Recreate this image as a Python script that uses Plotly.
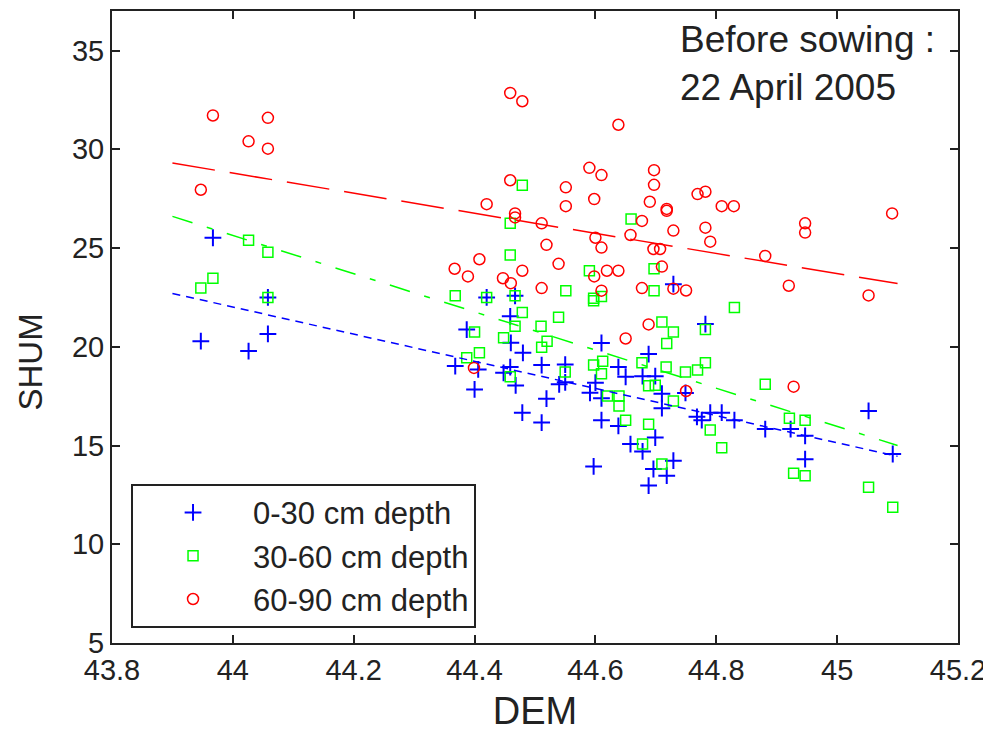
import plotly.graph_objects as go

# ---- data ----
dem_0_30 = [43.947, 43.967, 44.026, 44.058, 44.058, 44.42, 44.467, 44.459, 44.387, 44.46,
            44.61, 44.48, 44.368, 44.40, 44.406, 44.448, 44.459, 44.468, 44.511, 44.55,
            44.54, 44.55, 44.519, 44.479, 44.511, 44.597, 44.591, 44.60, 44.638, 44.65,
            44.61, 44.61, 44.638, 44.658, 44.678, 44.688, 44.688, 44.729, 44.782, 44.699,
            44.71, 44.749, 44.71, 44.768, 44.776, 44.79, 44.809, 44.83, 44.881, 44.923,
            44.947, 44.947, 45.052, 45.092, 44.699, 44.678, 44.729, 44.696, 44.718]
shum_0_30 = [20.28, 25.52, 19.78, 22.50, 20.65, 22.50, 22.58, 21.54, 20.87, 20.20,
             20.19, 19.69, 19.02, 17.84, 18.85, 18.68, 18.97, 18.04, 19.07, 19.10,
             18.10, 18.20, 17.37, 16.66, 16.16, 13.94, 17.67, 18.18, 18.97, 18.48,
             17.39, 16.28, 15.99, 15.07, 18.51, 19.63, 12.97, 23.17, 21.15, 18.51,
             17.62, 17.66, 16.89, 16.45, 16.28, 16.66, 16.66, 16.28, 15.83, 15.83,
             15.49, 14.31, 16.75, 14.57, 15.40, 14.70, 14.23, 13.81, 13.47]

dem_30_60 = [44.026, 44.058, 43.967, 43.947, 44.058, 44.479, 44.459, 44.659, 44.459, 44.59,
             44.551, 44.368, 44.42, 44.467, 44.597, 44.597, 44.61, 44.479, 44.539, 44.40,
             44.467, 44.51, 44.448, 44.52, 44.511, 44.408, 44.387, 44.697, 44.697, 44.83,
             44.71, 44.729, 44.782, 44.718, 44.782, 44.459, 44.55, 44.597, 44.612, 44.61,
             44.62, 44.639, 44.639, 44.65, 44.678, 44.677, 44.688, 44.688, 44.717, 44.749,
             44.769, 44.699, 44.729, 44.79, 44.809, 44.921, 44.947, 44.928, 44.947, 45.052,
             44.71, 44.881, 45.092]
shum_30_60 = [25.39, 24.78, 23.47, 22.97, 22.50, 28.18, 26.25, 26.47, 24.65, 23.85,
              22.84, 22.58, 22.50, 22.58, 22.46, 22.33, 22.55, 21.74, 21.50, 20.75,
              21.04, 21.04, 20.45, 20.28, 19.98, 19.69, 19.44, 23.95, 22.84, 21.99,
              21.25, 20.75, 20.87, 20.16, 19.19, 18.48, 18.72, 19.07, 19.27, 18.63,
              17.51, 17.51, 17.00, 16.28, 15.07, 19.19, 18.03, 16.08, 18.97, 18.72,
              18.82, 18.05, 17.25, 15.78, 14.88, 16.38, 16.28, 13.59, 13.47, 12.88,
              14.06, 18.10, 11.87]

dem_60_90 = [43.947, 43.967, 44.026, 44.058, 44.058, 44.367, 44.389, 44.399, 44.408, 44.42,
             44.447, 44.459, 44.459, 44.46, 44.467, 44.467, 44.479, 44.479, 44.511, 44.511,
             44.519, 44.539, 44.551, 44.551, 44.59, 44.598, 44.598, 44.60, 44.61, 44.61,
             44.61, 44.619, 44.638, 44.638, 44.65, 44.658, 44.677, 44.677, 44.688, 44.69,
             44.697, 44.697, 44.696, 44.707, 44.71, 44.718, 44.718, 44.729, 44.729, 44.75,
             44.75, 44.769, 44.782, 44.782, 44.79, 44.809, 44.829, 44.881, 44.92, 44.928,
             44.947, 44.947, 45.052, 45.091]
shum_60_90 = [27.95, 31.71, 30.40, 31.59, 30.03, 23.95, 23.56, 18.93, 24.43, 27.22,
              23.47, 32.85, 28.43, 23.22, 26.75, 26.55, 32.43, 23.85, 26.25, 22.97,
              25.16, 24.20, 28.07, 27.12, 29.06, 27.48, 23.56, 25.52, 28.69, 25.02,
              22.84, 23.85, 31.24, 23.85, 20.42, 25.66, 26.37, 22.97, 21.13, 27.34,
              28.94, 28.20, 24.95, 24.95, 24.06, 26.98, 26.88, 25.88, 22.94, 22.85,
              17.76, 27.73, 27.85, 26.03, 25.32, 27.12, 27.12, 24.60, 23.09, 17.98,
              26.25, 25.78, 22.60, 26.75]

# regression lines (end points)
fit_dem = [43.9, 45.1]
fit_0_30 = [22.7, 14.45]
fit_30_60 = [26.6, 15.0]
fit_60_90 = [29.3, 23.2]

x_ticks = [43.8, 44.0, 44.2, 44.4, 44.6, 44.8, 45.0, 45.2]
x_tick_labels = ["43.8", "44", "44.2", "44.4", "44.6", "44.8", "45", "45.2"]
y_ticks = [5, 10, 15, 20, 25, 30, 35]

FONT = "Liberation Sans, Arial, sans-serif"
BLUE, GREEN, RED = "#0000ff", "#00ff00", "#ff0000"
INK = "#222"

fig = go.Figure()

fig.add_trace(go.Scatter(x=dem_0_30, y=shum_0_30, mode="markers", name="0-30 cm depth",
                         marker=dict(symbol="cross-thin", size=12, color=BLUE,
                                     line=dict(color=BLUE, width=2))))
fig.add_trace(go.Scatter(x=dem_30_60, y=shum_30_60, mode="markers", name="30-60 cm depth",
                         marker=dict(symbol="square-open", size=10, color=GREEN,
                                     line=dict(color=GREEN, width=1.5))))
fig.add_trace(go.Scatter(x=dem_60_90, y=shum_60_90, mode="markers", name="60-90 cm depth",
                         marker=dict(symbol="circle-open", size=11, color=RED,
                                     line=dict(color=RED, width=1.5))))

fig.add_trace(go.Scatter(x=fit_dem, y=fit_0_30, mode="lines", showlegend=False,
                         line=dict(color=BLUE, width=1.5, dash="8px,6px")))
fig.add_trace(go.Scatter(x=fit_dem, y=fit_30_60, mode="lines", showlegend=False,
                         line=dict(color=GREEN, width=1.5, dash="21px,15px,6px,15px")))
fig.add_trace(go.Scatter(x=fit_dem, y=fit_60_90, mode="lines", showlegend=False,
                         line=dict(color=RED, width=1.5, dash="43px,15px")))

axis_common = dict(showline=True, linecolor=INK, linewidth=2, mirror="ticks",
                   ticks="inside", ticklen=8, tickwidth=1.5, tickcolor=INK,
                   showgrid=False, zeroline=False,
                   tickfont=dict(family=FONT, size=29, color=INK))

fig.update_xaxes(range=[43.8, 45.2], tickvals=x_ticks, ticktext=x_tick_labels,
                 title=dict(text="DEM", font=dict(family=FONT, size=38, color=INK),
                            standoff=13),
                 **axis_common)
fig.update_yaxes(range=[5, 37], tickvals=y_ticks, **axis_common)

# y-axis label (placed slightly below centre, as in the reference)
fig.add_annotation(xref="paper", yref="paper", x=-0.096, y=0.445, xanchor="center",
                   yanchor="middle", textangle=-90, showarrow=False, text="SHUM",
                   font=dict(family=FONT, size=33, color=INK))

fig.add_annotation(xref="paper", yref="paper", x=0.669, y=0.99, xanchor="left",
                   yanchor="top", align="left", showarrow=False,
                   text="Before sowing :<br>22 April 2005",
                   font=dict(family=FONT, size=37, color=INK))

fig.update_layout(
    width=983, height=726,
    margin=dict(l=104, r=33, t=1, b=91),
    paper_bgcolor="white", plot_bgcolor="white",
    showlegend=True,
    legend=dict(x=0.0225, y=0.252, xanchor="left", yanchor="top",
                bgcolor="white", bordercolor=INK, borderwidth=2,
                font=dict(family=FONT, size=31, color=INK),
                itemwidth=110),
)

fig.write_html("out.html")
